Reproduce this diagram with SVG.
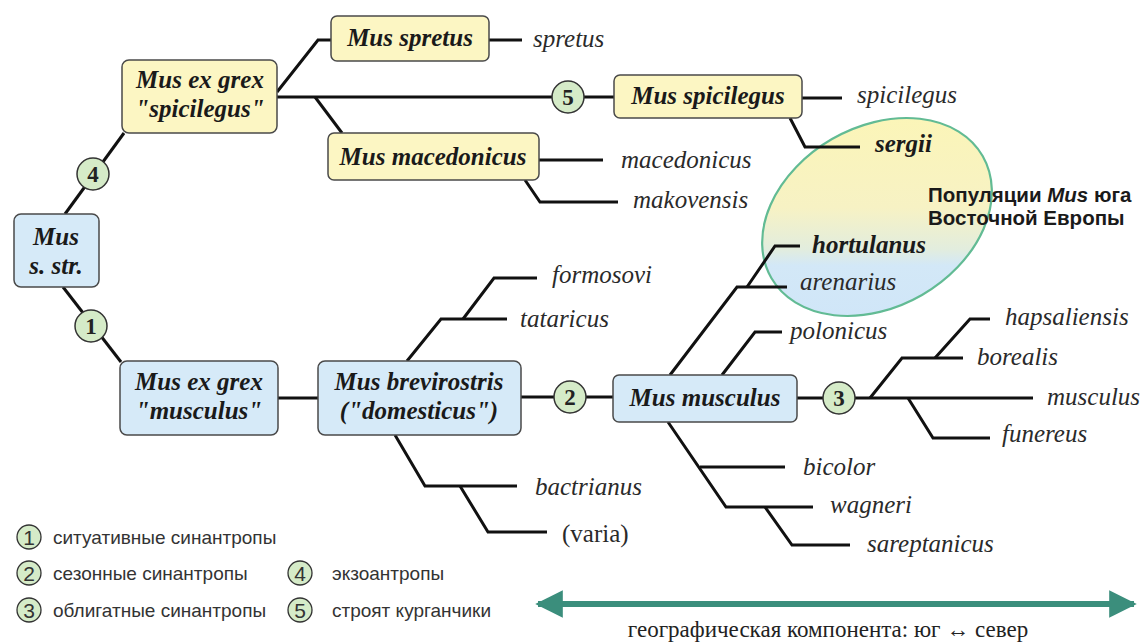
<svg xmlns="http://www.w3.org/2000/svg" width="1142" height="642" viewBox="0 0 1142 642">
<defs>
<linearGradient id="eg" gradientUnits="userSpaceOnUse" x1="877" y1="118" x2="877" y2="317" gradientTransform="rotate(30 877 217)">
<stop offset="0" stop-color="#fbf5b8"/>
<stop offset="0.45" stop-color="#f7f2c4"/>
<stop offset="0.66" stop-color="#e2edde"/>
<stop offset="0.74" stop-color="#d3e8f7"/>
<stop offset="1" stop-color="#d0e6f8"/>
</linearGradient>
<marker id="ah" viewBox="0 0 10 10" refX="9" refY="5" markerWidth="4.6" markerHeight="5.4" orient="auto-start-reverse" markerUnits="strokeWidth">
<path d="M0,0 L10,5 L0,10 z" fill="#3b8e7c"/>
</marker>
</defs>
<style>
.by{fill:#fcf6c3;stroke:#4a4a4a;stroke-width:1.5}
.bb{fill:#d6eaf8;stroke:#4a4a4a;stroke-width:1.5}
.bt{font-family:"Liberation Serif","Times New Roman",serif;font-weight:bold;font-style:italic;font-size:25px;fill:#1a1a1a;text-anchor:middle}
.lf{font-family:"Liberation Serif","Times New Roman",serif;font-style:italic;font-size:25px;fill:#2a2a2a}
.lfb{font-family:"Liberation Serif","Times New Roman",serif;font-style:italic;font-weight:bold;font-size:25px;fill:#1a1a1a}
.cn{fill:#d5ebc8;stroke:#333;stroke-width:1.5}
.cnt{font-family:"Liberation Serif","Times New Roman",serif;font-weight:bold;font-size:23px;fill:#222;text-anchor:middle}
.ln{fill:none;stroke:#111;stroke-width:3;stroke-linejoin:miter}
.lg{fill:#d5ebc8;stroke:#333;stroke-width:1.3}
.lgn{font-family:"Liberation Sans",sans-serif;font-size:21px;fill:#333;text-anchor:middle}
.lgt{font-family:"Liberation Sans",sans-serif;font-size:19px;fill:#333}
</style>
<rect width="1142" height="642" fill="#ffffff"/>

<g id="region">
<ellipse cx="877" cy="217" rx="122" ry="90" transform="rotate(-30 877 217)" fill="url(#eg)" stroke="#62bb94" stroke-width="2.2"/>
<text x="928" y="202" font-family="Liberation Sans,sans-serif" font-weight="bold" font-size="20.5" fill="#1a1a1a">Популяции <tspan font-style="italic">Mus</tspan> юга</text>
<text x="928" y="225" font-family="Liberation Sans,sans-serif" font-weight="bold" font-size="20.5" fill="#1a1a1a">Восточной Европы</text>
</g>

<g id="connectors">
<path class="ln" d="M65,214 L124,133"/>
<path class="ln" d="M63,287 L121,362"/>
<path class="ln" d="M277,92 L318,40 L331,40"/>
<path class="ln" d="M277,97 L614,97"/>
<path class="ln" d="M315,97 L342,133"/>
<path class="ln" d="M489,40 L522,40"/>
<path class="ln" d="M802,98 L842,98"/>
<path class="ln" d="M790,118 L805,147 L860,147"/>
<path class="ln" d="M539,160 L603,160"/>
<path class="ln" d="M525,180 L540,202 L618,202"/>
<path class="ln" d="M278,398 L318,398"/>
<path class="ln" d="M521,397 L613,397"/>
<path class="ln" d="M407,361 L441,319 L507,319"/>
<path class="ln" d="M463,319 L494,278 L537,278"/>
<path class="ln" d="M395,435 L425,486 L517,486"/>
<path class="ln" d="M460,486 L488,532 L547,532"/>
<path class="ln" d="M670,375 L737,287 L787,287"/>
<path class="ln" d="M747,287 L775,246 L800,246"/>
<path class="ln" d="M722,375 L755,332 L782,332"/>
<path class="ln" d="M668,422 L726,507 L813,507"/>
<path class="ln" d="M700,467 L785,467"/>
<path class="ln" d="M765,507 L792,545 L850,545"/>
<path class="ln" d="M797,398 L1033,398"/>
<path class="ln" d="M870,398 L902,358 L963,358"/>
<path class="ln" d="M935,358 L970,319 L990,319"/>
<path class="ln" d="M908,398 L933,438 L990,438"/>
</g>

<g id="n-mus">
<rect class="bb" x="14" y="214" width="85" height="73" rx="7"/>
<text class="bt" x="56" y="245">Mus</text>
<text class="bt" x="56" y="274">s. str.</text>
</g>
<g id="n-grex-spicilegus">
<rect class="by" x="122" y="60" width="155" height="73" rx="7"/>
<text class="bt" x="200" y="88">Mus ex grex</text>
<text class="bt" x="200" y="117">"spicilegus"</text>
</g>
<g id="n-spretus">
<rect class="by" x="331" y="16" width="158" height="45" rx="6"/>
<text class="bt" x="410" y="46">Mus spretus</text>
</g>
<g id="n-spicilegus">
<rect class="by" x="614" y="75" width="188" height="43" rx="6"/>
<text class="bt" x="708" y="104">Mus spicilegus</text>
</g>
<g id="n-macedonicus">
<rect class="by" x="328" y="133" width="211" height="47" rx="6"/>
<text class="bt" x="433" y="165">Mus macedonicus</text>
</g>
<g id="n-grex-musculus">
<rect class="bb" x="120" y="361" width="158" height="74" rx="7"/>
<text class="bt" x="199" y="390">Mus ex grex</text>
<text class="bt" x="199" y="419">"musculus"</text>
</g>
<g id="n-brevirostris">
<rect class="bb" x="318" y="361" width="203" height="74" rx="7"/>
<text class="bt" x="419" y="390">Mus brevirostris</text>
<text class="bt" x="419" y="419">("domesticus")</text>
</g>
<g id="n-musculus">
<rect class="bb" x="613" y="375" width="184" height="47" rx="6"/>
<text class="bt" x="705" y="406">Mus musculus</text>
</g>

<g id="c4"><circle class="cn" cx="93" cy="174" r="16"/><text class="cnt" x="93" y="182">4</text></g>
<g id="c1"><circle class="cn" cx="91" cy="326" r="16"/><text class="cnt" x="91" y="334">1</text></g>
<g id="c5"><circle class="cn" cx="568" cy="97" r="16"/><text class="cnt" x="568" y="105">5</text></g>
<g id="c2"><circle class="cn" cx="570" cy="397" r="16"/><text class="cnt" x="570" y="405">2</text></g>
<g id="c3"><circle class="cn" cx="839" cy="398" r="16"/><text class="cnt" x="839" y="406">3</text></g>

<g id="leaves">
<text class="lf" x="533" y="47">spretus</text>
<text class="lf" x="857" y="103">spicilegus</text>
<text class="lfb" x="875" y="152">sergii</text>
<text class="lf" x="621" y="168">macedonicus</text>
<text class="lf" x="633" y="208">makovensis</text>
<text class="lfb" x="812" y="253">hortulanus</text>
<text class="lf" x="800" y="290">arenarius</text>
<text class="lf" x="552" y="283">formosovi</text>
<text class="lf" x="520" y="327">tataricus</text>
<text class="lf" x="790" y="339">polonicus</text>
<text class="lf" x="1005" y="325">hapsaliensis</text>
<text class="lf" x="977" y="365">borealis</text>
<text class="lf" x="1047" y="405">musculus</text>
<text class="lf" x="1002" y="442">funereus</text>
<text class="lf" x="803" y="475">bicolor</text>
<text class="lf" x="830" y="513">wagneri</text>
<text class="lf" x="867" y="552">sareptanicus</text>
<text class="lf" x="535" y="495">bactrianus</text>
<text x="562" y="542" font-family="Liberation Serif,Times New Roman,serif" font-size="25" fill="#2a2a2a">(varia)</text>
</g>

<g id="legend">
<circle class="lg" cx="29" cy="537" r="12"/><text class="lgn" x="29" y="544.5">1</text>
<text class="lgt" x="53" y="544">ситуативные синантропы</text>
<circle class="lg" cx="29" cy="573" r="12"/><text class="lgn" x="29" y="580.5">2</text>
<text class="lgt" x="53" y="580">сезонные синантропы</text>
<circle class="lg" cx="29" cy="610" r="12"/><text class="lgn" x="29" y="617.5">3</text>
<text class="lgt" x="53" y="617">облигатные синантропы</text>
<circle class="lg" cx="300" cy="573" r="12"/><text class="lgn" x="300" y="580.5">4</text>
<text class="lgt" x="332" y="580">экзоантропы</text>
<circle class="lg" cx="300" cy="610" r="12"/><text class="lgn" x="300" y="617.5">5</text>
<text class="lgt" x="332" y="617">строят курганчики</text>
</g>

<g id="geo-axis">
<line x1="538" y1="604" x2="1134" y2="604" stroke="#3b8e7c" stroke-width="6" marker-start="url(#ah)" marker-end="url(#ah)"/>
<text x="828" y="637" font-family="Liberation Serif,Times New Roman,serif" font-size="23" fill="#222" text-anchor="middle">географическая компонента: юг ↔ север</text>
</g>
</svg>
